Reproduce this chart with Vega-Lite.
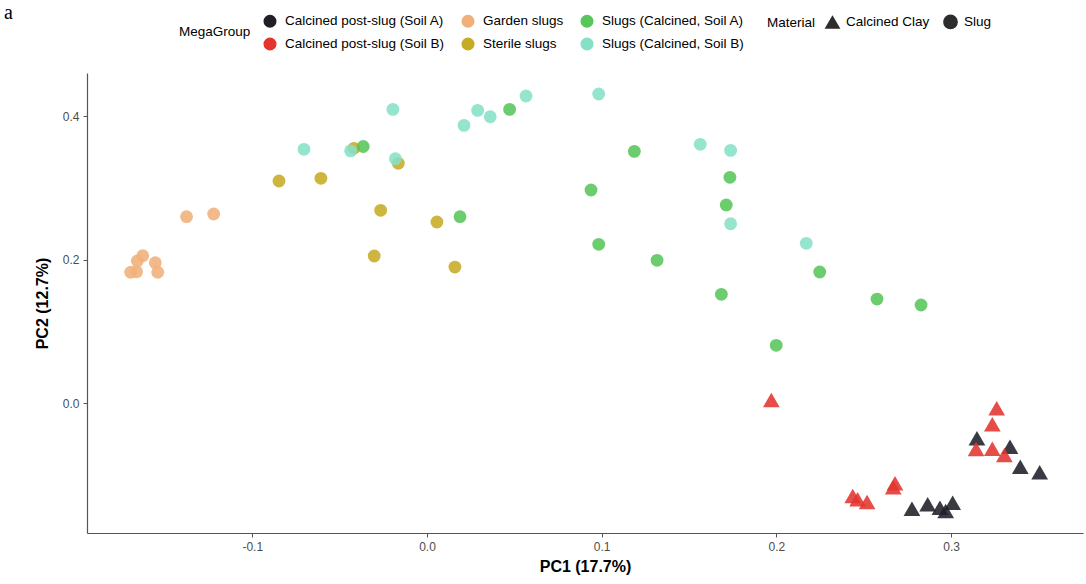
{
  "$schema": "https://vega.github.io/schema/vega-lite/v6.json",
  "width": 996,
  "height": 460,
  "autosize": {"type": "none"},
  "padding": {"left": 87, "top": 73, "right": 3, "bottom": 51},
  "background": "white",
  "title": {"text": "a", "font": "Liberation Serif", "fontSize": 20, "fontWeight": "normal", "color": "#000", "anchor": "start", "frame": "group", "dx": -83, "dy": 9, "offset": 0},
  "config": {
    "view": {"stroke": null},
    "font": "Liberation Sans",
    "axis": {"grid": false, "domainColor": "#555", "tickColor": "#555", "tickSize": 4, "labelColor": "#4d4d4d", "labelFontSize": 12, "labelFont": "Liberation Sans", "titleFont": "Liberation Sans", "titleFontSize": 16, "titleFontWeight": "bold", "titleColor": "#000", "domainWidth": 1.2}
  },
  "data": {"values": [
    {"PC1": -0.1376, "PC2": 0.2597, "MegaGroup": "Garden slugs", "Material": "Slug"},
    {"PC1": -0.1221, "PC2": 0.2634, "MegaGroup": "Garden slugs", "Material": "Slug"},
    {"PC1": -0.1627, "PC2": 0.2053, "MegaGroup": "Garden slugs", "Material": "Slug"},
    {"PC1": -0.1658, "PC2": 0.1979, "MegaGroup": "Garden slugs", "Material": "Slug"},
    {"PC1": -0.1696, "PC2": 0.1822, "MegaGroup": "Garden slugs", "Material": "Slug"},
    {"PC1": -0.1662, "PC2": 0.1830, "MegaGroup": "Garden slugs", "Material": "Slug"},
    {"PC1": -0.1555, "PC2": 0.1955, "MegaGroup": "Garden slugs", "Material": "Slug"},
    {"PC1": -0.1541, "PC2": 0.1822, "MegaGroup": "Garden slugs", "Material": "Slug"},
    {"PC1": -0.0847, "PC2": 0.3094, "MegaGroup": "Sterile slugs", "Material": "Slug"},
    {"PC1": -0.0607, "PC2": 0.3132, "MegaGroup": "Sterile slugs", "Material": "Slug"},
    {"PC1": -0.0418, "PC2": 0.3550, "MegaGroup": "Sterile slugs", "Material": "Slug"},
    {"PC1": -0.0164, "PC2": 0.3341, "MegaGroup": "Sterile slugs", "Material": "Slug"},
    {"PC1": -0.0265, "PC2": 0.2686, "MegaGroup": "Sterile slugs", "Material": "Slug"},
    {"PC1": 0.0057, "PC2": 0.2523, "MegaGroup": "Sterile slugs", "Material": "Slug"},
    {"PC1": -0.0302, "PC2": 0.2049, "MegaGroup": "Sterile slugs", "Material": "Slug"},
    {"PC1": 0.0160, "PC2": 0.1895, "MegaGroup": "Sterile slugs", "Material": "Slug"},
    {"PC1": -0.0365, "PC2": 0.3575, "MegaGroup": "Slugs (Calcined, Soil A)", "Material": "Slug"},
    {"PC1": 0.0473, "PC2": 0.4093, "MegaGroup": "Slugs (Calcined, Soil A)", "Material": "Slug"},
    {"PC1": 0.1187, "PC2": 0.3508, "MegaGroup": "Slugs (Calcined, Soil A)", "Material": "Slug"},
    {"PC1": 0.0939, "PC2": 0.2969, "MegaGroup": "Slugs (Calcined, Soil A)", "Material": "Slug"},
    {"PC1": 0.0189, "PC2": 0.2597, "MegaGroup": "Slugs (Calcined, Soil A)", "Material": "Slug"},
    {"PC1": 0.1734, "PC2": 0.3146, "MegaGroup": "Slugs (Calcined, Soil A)", "Material": "Slug"},
    {"PC1": 0.1713, "PC2": 0.2760, "MegaGroup": "Slugs (Calcined, Soil A)", "Material": "Slug"},
    {"PC1": 0.0983, "PC2": 0.2212, "MegaGroup": "Slugs (Calcined, Soil A)", "Material": "Slug"},
    {"PC1": 0.1317, "PC2": 0.1989, "MegaGroup": "Slugs (Calcined, Soil A)", "Material": "Slug"},
    {"PC1": 0.1685, "PC2": 0.1515, "MegaGroup": "Slugs (Calcined, Soil A)", "Material": "Slug"},
    {"PC1": 0.2248, "PC2": 0.1826, "MegaGroup": "Slugs (Calcined, Soil A)", "Material": "Slug"},
    {"PC1": 0.1999, "PC2": 0.0804, "MegaGroup": "Slugs (Calcined, Soil A)", "Material": "Slug"},
    {"PC1": 0.2576, "PC2": 0.1449, "MegaGroup": "Slugs (Calcined, Soil A)", "Material": "Slug"},
    {"PC1": 0.2828, "PC2": 0.1366, "MegaGroup": "Slugs (Calcined, Soil A)", "Material": "Slug"},
    {"PC1": -0.0195, "PC2": 0.4093, "MegaGroup": "Slugs (Calcined, Soil B)", "Material": "Slug"},
    {"PC1": -0.0704, "PC2": 0.3536, "MegaGroup": "Slugs (Calcined, Soil B)", "Material": "Slug"},
    {"PC1": -0.0437, "PC2": 0.3515, "MegaGroup": "Slugs (Calcined, Soil B)", "Material": "Slug"},
    {"PC1": -0.0181, "PC2": 0.3405, "MegaGroup": "Slugs (Calcined, Soil B)", "Material": "Slug"},
    {"PC1": 0.0212, "PC2": 0.3870, "MegaGroup": "Slugs (Calcined, Soil B)", "Material": "Slug"},
    {"PC1": 0.0290, "PC2": 0.4079, "MegaGroup": "Slugs (Calcined, Soil B)", "Material": "Slug"},
    {"PC1": 0.0362, "PC2": 0.3990, "MegaGroup": "Slugs (Calcined, Soil B)", "Material": "Slug"},
    {"PC1": 0.0567, "PC2": 0.4279, "MegaGroup": "Slugs (Calcined, Soil B)", "Material": "Slug"},
    {"PC1": 0.0983, "PC2": 0.4307, "MegaGroup": "Slugs (Calcined, Soil B)", "Material": "Slug"},
    {"PC1": 0.1564, "PC2": 0.3606, "MegaGroup": "Slugs (Calcined, Soil B)", "Material": "Slug"},
    {"PC1": 0.1738, "PC2": 0.3522, "MegaGroup": "Slugs (Calcined, Soil B)", "Material": "Slug"},
    {"PC1": 0.1738, "PC2": 0.2499, "MegaGroup": "Slugs (Calcined, Soil B)", "Material": "Slug"},
    {"PC1": 0.2171, "PC2": 0.2226, "MegaGroup": "Slugs (Calcined, Soil B)", "Material": "Slug"},
    {"PC1": 0.1971, "PC2": 0.0042, "MegaGroup": "Calcined post-slug (Soil B)", "Material": "Calcined Clay"},
    {"PC1": 0.3261, "PC2": -0.0074, "MegaGroup": "Calcined post-slug (Soil B)", "Material": "Calcined Clay"},
    {"PC1": 0.3236, "PC2": -0.0297, "MegaGroup": "Calcined post-slug (Soil B)", "Material": "Calcined Clay"},
    {"PC1": 0.3148, "PC2": -0.0492, "MegaGroup": "Calcined post-slug (Soil A)", "Material": "Calcined Clay"},
    {"PC1": 0.3337, "PC2": -0.0609, "MegaGroup": "Calcined post-slug (Soil A)", "Material": "Calcined Clay"},
    {"PC1": 0.3396, "PC2": -0.0888, "MegaGroup": "Calcined post-slug (Soil A)", "Material": "Calcined Clay"},
    {"PC1": 0.3507, "PC2": -0.0966, "MegaGroup": "Calcined post-slug (Soil A)", "Material": "Calcined Clay"},
    {"PC1": 0.2776, "PC2": -0.1473, "MegaGroup": "Calcined post-slug (Soil A)", "Material": "Calcined Clay"},
    {"PC1": 0.2866, "PC2": -0.1412, "MegaGroup": "Calcined post-slug (Soil A)", "Material": "Calcined Clay"},
    {"PC1": 0.2936, "PC2": -0.1459, "MegaGroup": "Calcined post-slug (Soil A)", "Material": "Calcined Clay"},
    {"PC1": 0.2969, "PC2": -0.1505, "MegaGroup": "Calcined post-slug (Soil A)", "Material": "Calcined Clay"},
    {"PC1": 0.3009, "PC2": -0.1390, "MegaGroup": "Calcined post-slug (Soil A)", "Material": "Calcined Clay"},
    {"PC1": 0.3143, "PC2": -0.0641, "MegaGroup": "Calcined post-slug (Soil B)", "Material": "Calcined Clay"},
    {"PC1": 0.3236, "PC2": -0.0637, "MegaGroup": "Calcined post-slug (Soil B)", "Material": "Calcined Clay"},
    {"PC1": 0.3305, "PC2": -0.0725, "MegaGroup": "Calcined post-slug (Soil B)", "Material": "Calcined Clay"},
    {"PC1": 0.2437, "PC2": -0.1296, "MegaGroup": "Calcined post-slug (Soil B)", "Material": "Calcined Clay"},
    {"PC1": 0.2465, "PC2": -0.1342, "MegaGroup": "Calcined post-slug (Soil B)", "Material": "Calcined Clay"},
    {"PC1": 0.2519, "PC2": -0.1380, "MegaGroup": "Calcined post-slug (Soil B)", "Material": "Calcined Clay"},
    {"PC1": 0.2679, "PC2": -0.1119, "MegaGroup": "Calcined post-slug (Soil B)", "Material": "Calcined Clay"},
    {"PC1": 0.2669, "PC2": -0.1175, "MegaGroup": "Calcined post-slug (Soil B)", "Material": "Calcined Clay"}
  ]},
  "encoding": {
    "x": {"field": "PC1", "type": "quantitative", "title": "PC1 (17.7%)",
      "scale": {"domain": [-0.1946, 0.3755], "nice": false, "zero": false},
      "axis": {"values": [-0.1, 0, 0.1, 0.2, 0.3], "format": ".1f", "labelExpr": "replace(datum.label, '−', '-')", "labelPadding": 4, "titlePadding": 6, "offset": 0}},
    "y": {"field": "PC2", "type": "quantitative", "title": "PC2 (12.7%)",
      "scale": {"domain": [-0.1812, 0.46], "nice": false, "zero": false},
      "axis": {"values": [0, 0.2, 0.4], "format": ".1f", "labelPadding": 4, "titlePadding": 12}},
    "color": {"field": "MegaGroup", "type": "nominal",
      "scale": {"domain": ["Calcined post-slug (Soil A)", "Garden slugs", "Slugs (Calcined, Soil A)", "Calcined post-slug (Soil B)", "Sterile slugs", "Slugs (Calcined, Soil B)"],
        "range": ["#1f1f28", "#f0b07a", "#58c65a", "#e3342f", "#c6ab26", "#86e0c6"]},
      "legend": {"orient": "none", "legendX": 92, "legendY": -59, "columns": 3, "direction": "horizontal", "title": "MegaGroup", "titleOrient": "left", "titleAnchor": "middle", "titleBaseline": "middle", "titleFontWeight": "normal", "titleFontSize": 13.5, "titleColor": "#000", "titlePadding": 12, "labelFontSize": 13.5, "labelColor": "#000", "labelOffset": 8, "symbolType": "circle", "symbolSize": 170, "symbolOpacity": 1, "rowPadding": 9, "columnPadding": 16, "symbolStrokeWidth": 0}},
    "shape": {"field": "Material", "type": "nominal",
      "scale": {"domain": ["Calcined Clay", "Slug"], "range": ["triangle-up", "circle"]},
      "legend": {"orient": "none", "legendX": 680, "legendY": -59, "direction": "horizontal", "title": "Material", "titleOrient": "left", "titleAnchor": "middle", "titleBaseline": "middle", "titleFontWeight": "normal", "titleFontSize": 13.5, "titleColor": "#000", "titlePadding": 9, "labelFontSize": 13.5, "labelColor": "#000", "labelOffset": 6, "symbolFillColor": "#111", "symbolStrokeColor": "#111", "symbolSize": 175, "columnPadding": 10}}
  },
  "layer": [
    {"transform": [{"filter": "datum.Material === 'Slug'"}],
     "mark": {"type": "point", "filled": true, "opacity": 0.88, "strokeWidth": 0, "size": 165}},
    {"transform": [{"filter": "datum.Material === 'Calcined Clay'"}],
     "mark": {"type": "point", "filled": true, "opacity": 0.88, "strokeWidth": 0, "size": 280}}
  ]
}
